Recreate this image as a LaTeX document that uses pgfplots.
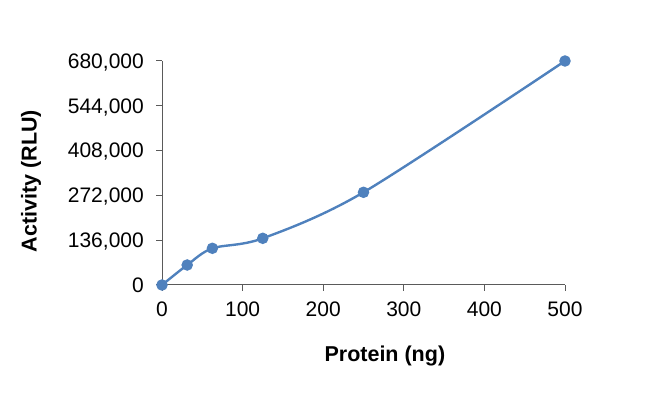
\documentclass[border=0pt]{standalone}
\usepackage{fontspec}
\setmainfont{Liberation Sans}
\usepackage{pgfplots}
\pgfplotsset{compat=1.18}
\definecolor{serblue}{RGB}{79,129,189}
\definecolor{axgray}{RGB}{90,90,90}
\begin{document}
\begin{tikzpicture}
\useasboundingbox (0,0) rectangle (650bp,414bp);
\begin{axis}[
  at={(162bp,129bp)}, anchor=south west,
  scale only axis, width=403bp, height=224bp,
  xmin=0, xmax=500, ymin=0, ymax=680000,
  enlargelimits=false, clip=false,
  axis x line=bottom, axis y line=left,
  axis line style={-, draw=axgray, line width=1bp},
  tick style={draw=axgray, line width=1bp},
  tick align=outside, major tick length=6bp,
  xtick={0,100,200,300,400,500},
  xticklabels={0,100,200,300,400,500},
  ytick={0,136000,272000,408000,544000,680000},
  yticklabels={0,{136,000},{272,000},{408,000},{544,000},{680,000}},
  scaled y ticks=false,
  ticklabel style={font=\fontsize{21bp}{24bp}\selectfont, inner sep=0pt, text depth=0pt, text=black},
  xticklabel style={anchor=north, yshift=-11bp},
  yticklabel style={anchor=east, xshift=-12bp},
  xlabel={\textbf{Protein (ng)}},
  ylabel={\textbf{Activity (RLU)}},
  label style={font=\fontsize{21.5bp}{24bp}\selectfont, inner sep=0pt},
  xlabel style={at={(axis description cs:0.553,-0.342)}, anchor=base},
  ylabel style={at={(axis description cs:-0.325,0.464)}, anchor=center},
]
\addplot[serblue, line width=2.4bp, smooth, mark=*, mark size=4.5bp, mark options={fill=serblue, draw=serblue}]
  coordinates {(0,0) (31.25,60700) (62.5,111400) (125,141700) (250,281400) (500,680000)};
\end{axis}
\end{tikzpicture}
\end{document}
